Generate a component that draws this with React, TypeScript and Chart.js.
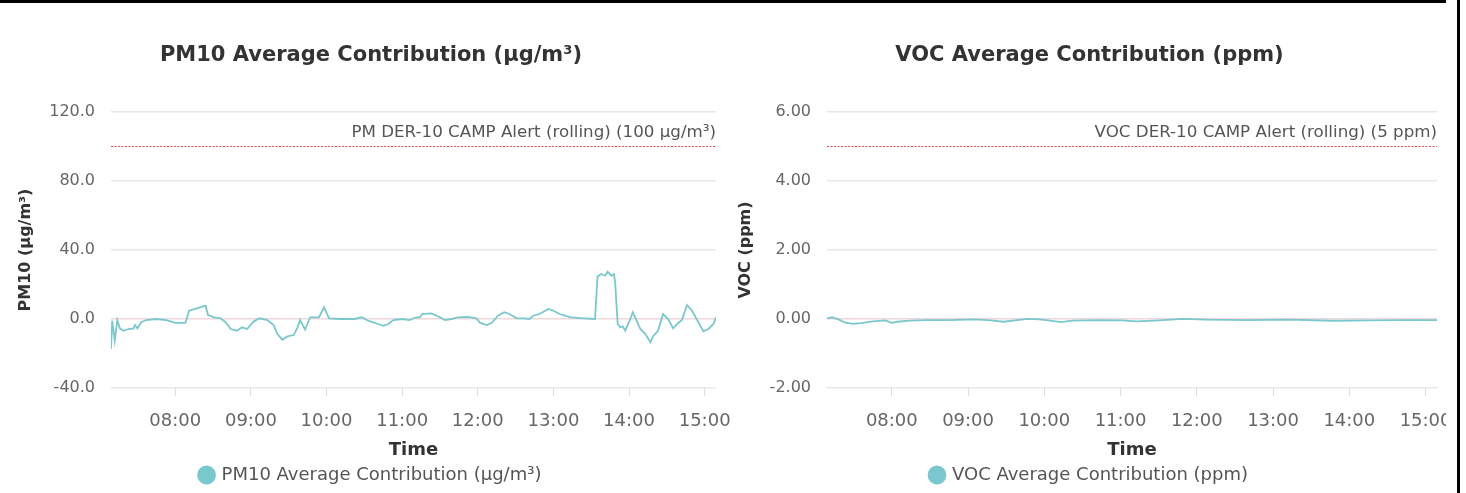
import React, { useEffect, useRef } from 'react';
import { Chart, registerables } from 'chart.js';

Chart.register(...registerables);

const FONT = '"DejaVu Sans", sans-serif';

// ---- data ----
const timeWindow = ['07:09', '15:09'];
const xTickLabels = ['08:00', '09:00', '10:00', '11:00', '12:00', '13:00', '14:00', '15:00'];

const pmTimes = [
  '07:09', '07:10', '07:12', '07:14', '07:16', '07:19', '07:23', '07:27', '07:28', '07:30',
  '07:33', '07:37', '07:45', '07:53', '08:00', '08:08', '08:11', '08:17', '08:24', '08:26',
  '08:31', '08:36', '08:40', '08:44', '08:49', '08:53', '08:57', '09:02', '09:07', '09:13',
  '09:18', '09:21', '09:25', '09:29', '09:34', '09:37', '09:39', '09:43', '09:47', '09:54',
  '09:58', '10:02', '10:11', '10:22', '10:28', '10:33', '10:41', '10:45', '10:49', '10:53',
  '11:00', '11:06', '11:11', '11:14', '11:16', '11:23', '11:30', '11:34', '11:39', '11:44',
  '11:52', '11:59', '12:02', '12:07', '12:11', '12:16', '12:21', '12:25', '12:31', '12:37',
  '12:41', '12:44', '12:49', '12:56', '13:00', '13:05', '13:09', '13:14', '13:24', '13:33',
  '13:35', '13:38', '13:41', '13:43', '13:46', '13:48', '13:49', '13:51', '13:53', '13:55',
  '13:57', '14:01', '14:03', '14:06', '14:09', '14:13', '14:17', '14:19', '14:23', '14:27',
  '14:31', '14:35', '14:39', '14:42', '14:46', '14:50', '14:55', '14:59', '15:03', '15:07',
  '15:09',
];
const pmValues = [
  -17.4, -1.0, -12.6, -0.6, -5.4, -6.8, -5.8, -5.4, -3.5, -5.4,
  -1.9, -0.6, 0.0, -0.6, -2.3, -2.3, 4.8, 6.2, 7.7, 2.3,
  1.0, 0.4, -1.9, -5.8, -6.8, -4.8, -5.8, -1.5, 0.4, -0.6,
  -3.5, -8.7, -12.0, -10.1, -9.3, -4.8, -0.6, -6.2, 1.0, 1.0,
  6.8, 0.4, 0.0, 0.0, 1.0, -1.0, -2.9, -3.9, -2.9, -0.6,
  0.0, -0.6, 1.0, 1.0, 2.9, 3.3, 1.0, -0.6, 0.0, 1.0,
  1.2, 0.4, -2.3, -3.5, -2.3, 1.9, 3.9, 2.9, 0.4, 0.4,
  0.0, 1.9, 2.9, 5.8, 4.8, 2.9, 1.9, 1.0, 0.4, 0.0,
  24.7, 26.1, 25.1, 27.4, 25.1, 26.1, 21.2, -2.9, -4.8, -4.3,
  -6.8, 0.0, 3.9, -1.0, -5.8, -8.7, -13.5, -10.1, -6.8, 2.9,
  0.0, -5.4, -2.3, -0.6, 8.1, 4.8, -1.9, -7.2, -5.8, -2.9,
  1.0,
];

const vocTimes = [
  '07:09', '07:13', '07:18', '07:23', '07:29', '07:36', '07:45', '07:55', '08:00', '08:04',
  '08:14', '08:27', '08:46', '09:05', '09:18', '09:28', '09:37', '09:47', '09:56', '10:03',
  '10:13', '10:22', '10:42', '11:01', '11:13', '11:30', '11:49', '12:08', '12:40', '13:12',
  '13:47', '14:16', '14:39', '15:09',
];
const vocValues = [
  0.02, 0.05, -0.01, -0.10, -0.14, -0.12, -0.07, -0.04, -0.11, -0.08,
  -0.05, -0.03, -0.03, -0.01, -0.04, -0.08, -0.04, 0.005, -0.01, -0.04,
  -0.09, -0.05, -0.03, -0.04, -0.07, -0.04, 0.005, -0.02, -0.03, -0.02,
  -0.05, -0.04, -0.03, -0.03,
];

const pmYTicks = [-40, 0, 40, 80, 120];
const vocYTicks = [-2, 0, 2, 4, 6];

const pmAlertValue = 100;
const vocAlertValue = 5;
const pmAlertLabel = 'PM DER-10 CAMP Alert (rolling) (100 µg/m³)';
const vocAlertLabel = 'VOC DER-10 CAMP Alert (rolling) (5 ppm)';

const pmTitle = 'PM10 Average Contribution (µg/m³)';
const vocTitle = 'VOC Average Contribution (ppm)';
const pmYTitle = 'PM10 (µg/m³)';
const vocYTitle = 'VOC (ppm)';
const xTitle = 'Time';

// ---- styling ----
const TEAL = 'rgb(120, 200, 205)';
const ALERT = 'rgb(232, 80, 80)';

const toMin = (s: string) => {
  const [h, m] = s.split(':').map(Number);
  return h * 60 + m;
};
const fmt = (v: number) => {
  const h = Math.floor(v / 60);
  const m = Math.round(v - h * 60);
  return String(h).padStart(2, '0') + ':' + String(m).padStart(2, '0');
};

const alertLabelPlugin = {
  id: 'alertLabel',
  afterDatasetsDraw(chart: any) {
    const { ctx, chartArea } = chart;
    chart.data.datasets.forEach((ds: any) => {
      if (!ds.alertLabel) return;
      const y = chart.scales.y.getPixelForValue(ds.alertValue);
      ctx.save();
      ctx.font = '16.7px ' + FONT;
      ctx.fillStyle = '#555';
      ctx.textAlign = 'right';
      ctx.textBaseline = 'alphabetic';
      ctx.fillText(ds.alertLabel, chartArea.right, y - 10);
      ctx.restore();
    });
  },
};

interface Cfg {
  title: string;
  yTitle: string;
  yTitlePadTop: number;
  padRight: number;
  times: string[];
  values: number[];
  yTicks: number[];
  decimals: number;
  alertValue: number;
  alertLabel: string;
}

function makeConfig(c: Cfg): any {
  const xMin = toMin(timeWindow[0]);
  const xMax = toMin(timeWindow[1]);
  return {
    type: 'line',
    data: {
      datasets: [
        {
          label: c.title,
          data: c.times.map((t, i) => ({ x: toMin(t), y: c.values[i] })),
          borderColor: TEAL,
          backgroundColor: TEAL,
          borderWidth: 1.8,
          pointRadius: 0,
          tension: 0,
        },
        {
          label: c.alertLabel,
          alertLabel: c.alertLabel,
          alertValue: c.alertValue,
          data: [
            { x: xMin, y: c.alertValue },
            { x: xMax, y: c.alertValue },
          ],
          borderColor: ALERT,
          backgroundColor: ALERT,
          borderWidth: 1,
          borderDash: [2, 1.5],
          pointRadius: 0,
        },
      ],
    },
    options: {
      responsive: false,
      animation: false,
      devicePixelRatio: 1,
      layout: { padding: { left: 26, right: c.padRight, top: 0, bottom: -1 } },
      plugins: {
        title: {
          display: true,
          text: c.title,
          color: '#333',
          font: { family: FONT, size: 21, weight: 'bold' },
          padding: { top: 43.4, bottom: 43.4 },
        },
        legend: {
          position: 'bottom',
          labels: {
            usePointStyle: true,
            pointStyle: 'circle',
            boxWidth: 12,
            boxHeight: 12,
            padding: 5,
            color: '#555',
            font: { family: FONT, size: 18 },
            filter: (item: any) => item.datasetIndex === 0,
          },
        },
        tooltip: { enabled: false },
      },
      scales: {
        x: {
          type: 'linear',
          min: xMin,
          max: xMax,
          afterBuildTicks: (scale: any) => {
            scale.ticks = xTickLabels.map((l) => ({ value: toMin(l) }));
          },
          afterFit: (scale: any) => {
            scale.paddingLeft = 0;
            scale.paddingRight = 0;
          },
          ticks: {
            autoSkip: false,
            maxRotation: 0,
            color: '#666',
            padding: 15,
            font: { family: FONT, size: 18 },
            callback: (v: number) => fmt(v),
          },
          grid: {
            drawOnChartArea: false,
            drawTicks: true,
            tickLength: 8,
            color: '#dddddd',
          },
          border: { display: false },
          title: {
            display: true,
            text: xTitle,
            color: '#333',
            font: { family: FONT, size: 18, weight: 'bold' },
            padding: { top: -7.6, bottom: -0.6 },
          },
        },
        y: {
          min: c.yTicks[0],
          max: c.yTicks[c.yTicks.length - 1],
          afterBuildTicks: (scale: any) => {
            scale.ticks = c.yTicks.map((v) => ({ value: v }));
          },
          afterFit: (scale: any) => {
            scale.width = 85;
          },
          ticks: {
            color: '#666',
            padding: 16,
            font: { family: FONT, size: 16 },
            callback: (v: number) => Number(v).toFixed(c.decimals),
          },
          grid: {
            drawTicks: false,
            lineWidth: 1.5,
            color: (ctx: any) =>
              ctx.tick && ctx.tick.value === 0 ? 'rgb(238, 214, 218)' : '#e8e8e8',
          },
          border: { display: false },
          title: {
            display: true,
            text: c.yTitle,
            color: '#333',
            font: { family: FONT, size: 16, weight: 'bold' },
            padding: { top: c.yTitlePadTop, bottom: 4 },
          },
        },
      },
    },
    plugins: [alertLabelPlugin],
  };
}

function ChartBox({ cfg, left, width }: { cfg: Cfg; left: number; width: number }) {
  const ref = useRef<HTMLCanvasElement>(null);
  useEffect(() => {
    if (!ref.current) return;
    const chart = new Chart(ref.current, makeConfig(cfg));
    return () => chart.destroy();
  }, []);
  return (
    <canvas
      ref={ref}
      width={width}
      height={493}
      style={{ position: 'absolute', left, top: 0, width, height: 493, display: 'block' }}
    />
  );
}

export default function App() {
  return (
    <div
      style={{
        position: 'absolute',
        left: 0,
        top: 0,
        width: 1466,
        height: 493,
        overflow: 'hidden',
        background: '#fff',
      }}
    >
      <ChartBox
        left={0}
        width={740}
        cfg={{
          title: pmTitle,
          yTitle: pmYTitle,
          yTitlePadTop: -10,
          padRight: 24,
          times: pmTimes,
          values: pmValues,
          yTicks: pmYTicks,
          decimals: 1,
          alertValue: pmAlertValue,
          alertLabel: pmAlertLabel,
        }}
      />
      <ChartBox
        left={716}
        width={746}
        cfg={{
          title: vocTitle,
          yTitle: vocYTitle,
          yTitlePadTop: -6,
          padRight: 25,
          times: vocTimes,
          values: vocValues,
          yTicks: vocYTicks,
          decimals: 2,
          alertValue: vocAlertValue,
          alertLabel: vocAlertLabel,
        }}
      />
      <div style={{ position: 'absolute', left: 1446, top: 0, width: 20, height: 493, background: '#fff' }} />
      <div style={{ position: 'absolute', left: 0, top: 0, width: 1446, height: 3, background: '#000' }} />
      <div style={{ position: 'absolute', left: 1457, top: 0, width: 3, height: 493, background: '#000' }} />
    </div>
  );
}
